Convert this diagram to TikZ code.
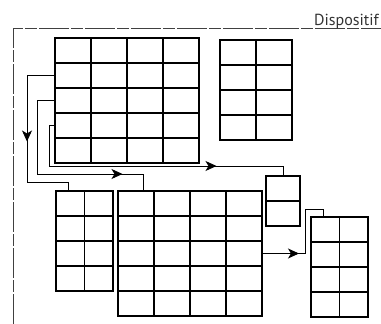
\documentclass[tikz,border=0pt]{standalone}
\usepackage{fontspec}
\setsansfont{PT Sans}
\usetikzlibrary{calc}
\usetikzlibrary{arrows.meta}
\usetikzlibrary{decorations.markings}

\tikzset{
  % table of #1 columns and #2 rows, cells of #3 x #4
  cellgrid/.style n args={4}{
    draw, line width=1.3pt, inner sep=0pt, outer sep=0pt, anchor=north west,
    minimum width={#1*#3pt}, minimum height={#2*#4pt},
    path picture={
      \coordinate (tl) at (path picture bounding box.north west);
      \foreach \c in {0,...,#1}
        \draw[line width=1.3pt] ($(tl)+(\c*#3,0)$) -- ++(0,#2*#4);
      \foreach \r in {0,...,#2}
        \draw[line width=1.3pt] ($(tl)+(0,\r*#4)$) -- ++(#1*#3,0);
    }
  },
  link/.style={line width=0.9pt},
  midarrow/.style={postaction={decorate, decoration={markings,
      mark=at position #1 with {\arrow{Stealth[length=11pt,width=10pt,inset=3pt]}}}}},
  frame/.style={line width=0.8pt, black!75, dash pattern=on 30pt off 2pt on 12pt off 2pt}
}

\begin{document}
\begin{tikzpicture}[x=1pt,y=-1pt]

  \useasboundingbox (0,0) rectangle (381,324);

  % dashed boundary of the device
  \draw[frame] (13,324) |- (381,28);
  \node[anchor=base east, inner sep=0pt, black!80,
        font=\sffamily\fontsize{16}{16}\selectfont] (dev) at (379,25) {Dispositif};

  % tables
  \node[cellgrid={4}{5}{36}{25}]   (g1) at (55,38)   {};
  \node[cellgrid={2}{4}{36}{25}]   (g2) at (220,40)  {};
  \node[cellgrid={2}{4}{28.5}{25}] (g3) at (56,191)  {};
  \node[cellgrid={4}{5}{36}{25}]   (g4) at (118,191) {};
  \node[cellgrid={1}{2}{34}{25}]   (g5) at (266,176) {};
  \node[cellgrid={2}{4}{28.5}{25}] (g6) at (311,217) {};

  % links between the tables
  \draw[link, midarrow=94pt]
    ($(g1.north west)+(0,37.5)$) -| (27,182) -| ($(g3.north west)+(12,0)$);
  \draw[link, midarrow=177pt]
    ($(g1.north west)+(0,62.5)$) -| (37,174) -| ($(g4.north west)+(25,0)$);
  \draw[link, midarrow=214pt]
    ($(g1.north west)+(0,87.5)$) -| (49,166) -| (g5.north);
  \draw[link, midarrow=37pt]
    ($(g4.north east)+(0,62.5)$) -| (305,209) -| ($(g6.north west)+(12,0)$);

\end{tikzpicture}
\end{document}
